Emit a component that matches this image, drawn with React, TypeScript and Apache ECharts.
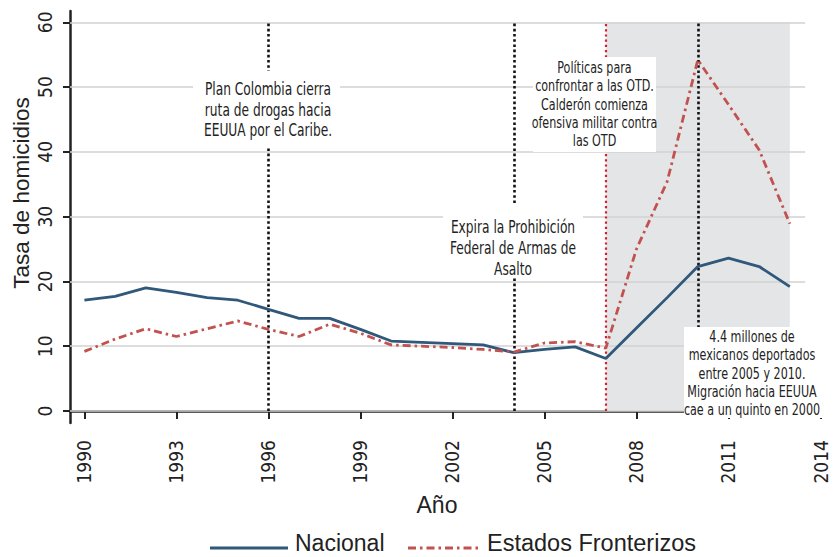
import React, { useEffect, useRef } from "react";
import * as echarts from "echarts";

const years = [1990,1991,1992,1993,1994,1995,1996,1997,1998,1999,2000,2001,2002,2003,2004,2005,2006,2007,2008,2009,2010,2011,2012,2013];
const nacional = [17.1,17.7,19.0,18.3,17.5,17.1,15.7,14.3,14.3,12.6,10.8,10.6,10.4,10.2,9.0,9.5,9.9,8.1,12.8,17.5,22.3,23.6,22.3,19.2];
const fronterizos = [9.2,11.1,12.7,11.5,12.7,13.9,12.6,11.5,13.4,12.0,10.2,10.0,9.8,9.5,9.1,10.5,10.7,9.7,25.0,35.4,54.2,47.3,40.3,28.9];
const xTicks = [1990,1993,1996,1999,2002,2005,2008,2011,2014];
const yTicks = [0,10,20,30,40,50,60];
const gridValues = [0,10,20,30,40,50,60];
const blackEvents = [1996, 2004, 2010];
const redEvent = [2007];
const shadeRange = [2007, 2013];
const seriesNames = ["Nacional", "Estados Fronterizos"];

const NARROW = "'Liberation Sans Narrow', 'DejaVu Sans Condensed', 'Liberation Sans', sans-serif";
const REG = "'Liberation Sans', Arial, sans-serif";
const BLUE = "#30587a";
const RED = "#c2524f";
const DASHDOT = [8, 4, 2.5, 4];

export default function App() {
  const ref = useRef<HTMLDivElement>(null);
  useEffect(() => {
    const chart = echarts.init(ref.current!, null, { renderer: "svg" });
    const xMin = 1989.53, xMax = 2014, gridEnd = 2013.5;
    const SX = 0.8;
    const option: any = {
      animation: false,
      backgroundColor: "#ffffff",
      grid: { left: 70, right: 13.5, top: 11, bottom: 134 },
      xAxis: {
        type: "value", min: xMin, max: xMax,
        axisLine: { show: true, lineStyle: { color: "#222", width: 2.5 } },
        axisTick: { show: true, length: 8, lineStyle: { color: "#222", width: 2 }, customValues: xTicks },
        axisLabel: { rotate: 90, margin: 17, fontFamily: NARROW, fontSize: 19, color: "#222", customValues: xTicks, formatter: (v: number) => String(v) },
        splitLine: { show: false },
      },
      yAxis: {
        type: "value", min: -1.85, max: 61.74,
        axisLine: { show: true, lineStyle: { color: "#222", width: 2.5 } },
        axisTick: { show: true, length: 7, lineStyle: { color: "#222", width: 2 }, customValues: yTicks },
        axisLabel: { rotate: 90, margin: 16, fontFamily: NARROW, fontSize: 19, color: "#222", customValues: yTicks },
        splitLine: { show: false },
      },
      series: [
        {
          type: "line", name: "_shade", data: [], z: 1, silent: true,
          markArea: {
            silent: true,
            itemStyle: { color: "#e4e5e7" },
            data: [[{ coord: [shadeRange[0], 0] }, { coord: [shadeRange[1], 60] }]],
          },
        },
        {
          type: "line", name: "_grid", data: [], z: 2, silent: true,
          markLine: {
            silent: true, symbol: "none", label: { show: false },
            lineStyle: { color: "#d2d2d2", width: 1.6, type: "solid" },
            data: gridValues.map((v) => [{ coord: [xMin, v] }, { coord: [gridEnd, v] }]),
          },
        },
        {
          type: "line", name: "_events", data: [], z: 3, silent: true,
          markLine: {
            silent: true, symbol: "none", label: { show: false },
            lineStyle: { color: "#111", width: 2.6, type: [2.6, 2.6] },
            data: blackEvents.map((v) => [{ coord: [v, 0] }, { coord: [v, 60] }]),
          },
        },
        {
          type: "line", name: "_red", data: [], z: 3, silent: true,
          markLine: {
            silent: true, symbol: "none", label: { show: false },
            lineStyle: { color: "#d3202e", width: 2.2, type: [2.2, 3] },
            data: redEvent.map((v) => [{ coord: [v, 0] }, { coord: [v, 60] }]),
          },
        },
        {
          type: "line", name: seriesNames[0], z: 5,
          data: years.map((y, i) => [y, nacional[i]]),
          showSymbol: false, symbol: "none",
          lineStyle: { color: BLUE, width: 2.8 },
        },
        {
          type: "line", name: seriesNames[1], z: 5,
          data: years.map((y, i) => [y, fronterizos[i]]),
          showSymbol: false, symbol: "none",
          lineStyle: { color: RED, width: 2.8, type: DASHDOT },
        },
      ],
      graphic: [
        { type: "rect", z: 100, shape: { x: 193, y: 71, width: 147, height: 75 }, style: { fill: "#fff" } },
        { type: "text", z: 101, x: 268, y: 110, scaleX: SX, style: { text: "Plan Colombia cierra\nruta de drogas hacia\nEEUUA por el Caribe.", font: `17px ${NARROW}`, fill: "#222", align: "center", verticalAlign: "middle", lineHeight: 20.5 } },
        { type: "rect", z: 100, shape: { x: 443, y: 204, width: 140, height: 73 }, style: { fill: "#fff" } },
        { type: "text", z: 101, x: 513, y: 248, scaleX: SX, style: { text: "Expira la Prohibición\nFederal de Armas de\nAsalto", font: `17px ${NARROW}`, fill: "#222", align: "center", verticalAlign: "middle", lineHeight: 21 } },
        { type: "rect", z: 100, shape: { x: 533, y: 57, width: 123, height: 95 }, style: { fill: "#fff" } },
        { type: "text", z: 101, x: 594.5, y: 104, scaleX: SX, style: { text: "Políticas para\nconfrontar a las OTD.\nCalderón comienza\nofensiva militar contra\nlas OTD", font: `15.5px ${NARROW}`, fill: "#222", align: "center", verticalAlign: "middle", lineHeight: 18.3 } },
        { type: "rect", z: 100, shape: { x: 684, y: 327, width: 138, height: 91 }, style: { fill: "#fff" } },
        { type: "text", z: 101, x: 752, y: 373, scaleX: SX, style: { text: "4.4 millones de\nmexicanos deportados\nentre 2005 y 2010.\nMigración hacia EEUUA\ncae a un quinto en 2000", font: `15.5px ${NARROW}`, fill: "#222", align: "center", verticalAlign: "middle", lineHeight: 18.2 } },
        { type: "text", z: 101, x: 21, y: 193, rotation: Math.PI / 2, style: { text: "Tasa de homicidios", font: `22.5px ${REG}`, fill: "#222", align: "center", verticalAlign: "middle" } },
        { type: "text", z: 101, x: 437, y: 505, style: { text: "Año", font: `23px ${REG}`, fill: "#222", align: "center", verticalAlign: "middle" } },
        { type: "line", z: 101, shape: { x1: 210, y1: 548, x2: 288, y2: 548 }, style: { stroke: BLUE, lineWidth: 3 } },
        { type: "text", z: 101, x: 295, y: 543, style: { text: seriesNames[0], font: `23px ${REG}`, fill: "#222", align: "left", verticalAlign: "middle" } },
        { type: "line", z: 101, shape: { x1: 408, y1: 548, x2: 480, y2: 548 }, style: { stroke: RED, lineWidth: 3, lineDash: DASHDOT } },
        { type: "text", z: 101, x: 487, y: 543, style: { text: seriesNames[1], font: `23.5px ${REG}`, fill: "#222", align: "left", verticalAlign: "middle" } },
      ],
    };
    chart.setOption(option);
    return () => chart.dispose();
  }, []);
  return <div ref={ref} style={{ width: 834, height: 557, position: "absolute", left: 0, top: 0 }} />;
}
